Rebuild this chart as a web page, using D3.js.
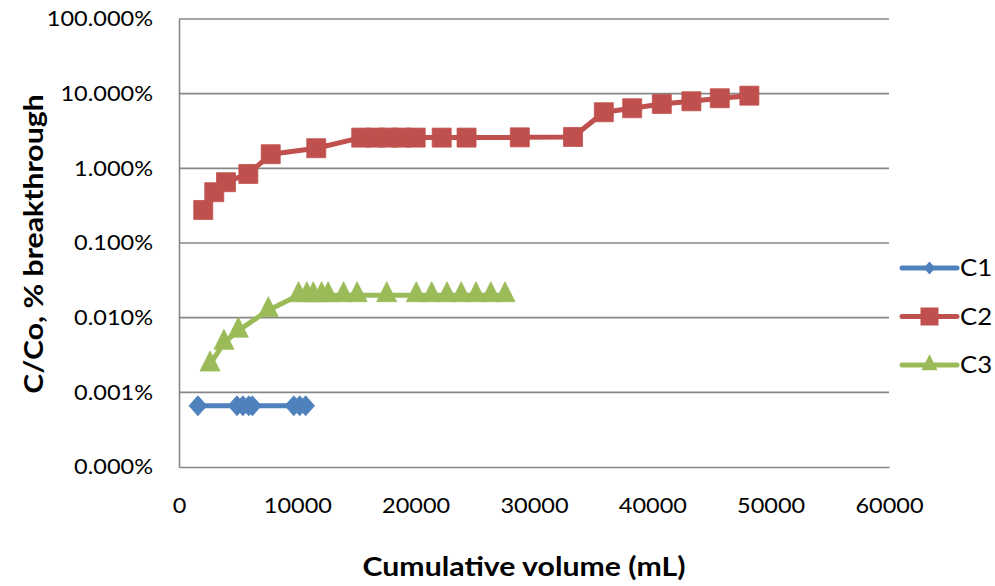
<!DOCTYPE html>
<html>
<head>
<meta charset="utf-8">
<script src="https://cdn.jsdelivr.net/npm/d3@7"></script>
<style>
  html, body { margin: 0; padding: 0; background: #fff; }
  svg { display: block; }
  text { font-family: Lato, "Open Sans", "Liberation Sans", sans-serif; fill: #000; }
</style>
</head>
<body>
<svg id="chart" width="995" height="586"></svg>
<script>
// Breakthrough data: cumulative volume (mL) and C/Co in percent
const c1Volume = [1600, 4900, 5400, 5900, 6200, 9700, 10200, 10700];
const c1Percent = [0.00066, 0.00066, 0.00066, 0.00066, 0.00066, 0.00066, 0.00066, 0.00066];

const c2Volume = [2050, 2980, 3970, 5860, 7750, 11600, 15400, 16600, 17700, 18800, 20000,
                  22200, 24300, 28800, 33300, 35900, 38300, 40800, 43300, 45700, 48200];
const c2Percent = [0.277, 0.479, 0.652, 0.841, 1.545, 1.86, 2.58, 2.58, 2.58, 2.58, 2.58,
                   2.58, 2.58, 2.6, 2.63, 5.64, 6.38, 7.28, 7.91, 8.68, 9.4];

const c3Volume = [2620, 3800, 5010, 7550, 10100, 10800, 11350, 12050, 12600, 13900, 15050,
                  17550, 20050, 21350, 22650, 23850, 25100, 26350, 27550];
const c3Percent = [0.00236, 0.0046, 0.0067, 0.0126, 0.02, 0.02, 0.02, 0.02, 0.02, 0.02, 0.02,
                   0.02, 0.02, 0.02, 0.02, 0.02, 0.02, 0.02, 0.02];

const seriesNames = ["C1", "C2", "C3"];
const xTicks = [0, 10000, 20000, 30000, 40000, 50000, 60000];
const yTicks = [0.0001, 0.001, 0.01, 0.1, 1, 10, 100];

const colors = { C1: "#4F81BD", C2: "#C0504D", C3: "#9BBB59" };

const series = [
  { name: "C1", marker: "diamond", values: c1Volume.map((v, i) => ({ x: v, y: c1Percent[i] })) },
  { name: "C2", marker: "square", values: c2Volume.map((v, i) => ({ x: v, y: c2Percent[i] })) },
  { name: "C3", marker: "triangle", values: c3Volume.map((v, i) => ({ x: v, y: c3Percent[i] })) }
];

const svg = d3.select("#chart");
const plot = { left: 179, right: 889, top: 19, bottom: 467 };

const x = d3.scaleLinear().domain([0, 60000]).range([plot.left, plot.right]);
const y = d3.scaleLog().domain([0.0001, 100]).range([plot.bottom, plot.top]);

// Widen glyphs horizontally around their anchor point
function stretch(sel, k) {
  sel.each(function () {
    const t = d3.select(this);
    const x0 = +t.attr("x") || 0;
    t.attr("transform", `translate(${x0},0) scale(${k},1) translate(${-x0},0)`);
  });
}

// Horizontal gridlines at each decade
svg.append("g")
  .selectAll("line")
  .data(yTicks.slice(1))
  .join("line")
  .attr("x1", plot.left).attr("x2", plot.right)
  .attr("y1", d => y(d)).attr("y2", d => y(d))
  .attr("stroke", "#878787").attr("stroke-width", 1.6);

// Y axis
const yAxis = svg.append("g")
  .attr("transform", `translate(${plot.left},0)`)
  .call(d3.axisLeft(y).tickValues(yTicks).tickFormat(d => d3.format(".3f")(d) + "%").tickSize(0).tickPadding(26));
yAxis.select(".domain").attr("stroke", "#878787").attr("stroke-width", 1.6);
yAxis.selectAll("text").style("font-size", "21px").attr("fill", "#000").call(stretch, 1.12);

// X axis
const xAxis = svg.append("g")
  .attr("transform", `translate(0,${plot.bottom})`)
  .call(d3.axisBottom(x).tickValues(xTicks).tickFormat(d3.format("d")).tickSize(0).tickPadding(31));
xAxis.select(".domain").attr("stroke", "#878787").attr("stroke-width", 1.6);
xAxis.selectAll("text").style("font-size", "21px").attr("fill", "#000").call(stretch, 1.12);

// Axis titles
svg.append("text")
  .attr("transform", "translate(524,576) scale(1.12,1)")
  .attr("text-anchor", "middle")
  .style("font-size", "27px").style("font-weight", "bold")
  .text("Cumulative volume (mL)");

svg.append("text")
  .attr("transform", "translate(43,244) rotate(-90) scale(1.12,1)")
  .attr("text-anchor", "middle")
  .style("font-size", "27px").style("font-weight", "bold")
  .text("C/Co, % breakthrough");

// Marker shapes
function markerPath(type, s) {
  if (type === "square") {
    return `M${-s},${-s}H${s}V${s}H${-s}Z`;
  }
  if (type === "diamond") {
    const w = s * 0.9, h = s;
    return `M0,${-h}L${w},0L0,${h}L${-w},0Z`;
  }
  // triangle, point sits near the centroid
  return `M0,${-s * 1.35}L${s},${s * 0.65}L${-s},${s * 0.65}Z`;
}

const line = d3.line().x(d => x(d.x)).y(d => y(d.y));

const g = svg.append("g");
series.forEach(s => {
  g.append("path")
    .datum(s.values)
    .attr("d", line)
    .attr("fill", "none")
    .attr("stroke", colors[s.name])
    .attr("stroke-width", 5)
    .attr("stroke-linejoin", "round")
    .attr("stroke-linecap", "round");
  const size = s.marker === "square" ? 9.5 : 10;
  g.append("g")
    .selectAll("path")
    .data(s.values)
    .join("path")
    .attr("transform", d => `translate(${x(d.x)},${y(d.y)})`)
    .attr("d", markerPath(s.marker, size))
    .attr("fill", colors[s.name])
    .attr("stroke", colors[s.name])
    .attr("stroke-width", 0.8)
    .attr("stroke-linejoin", "round");
});

// Legend
const legend = svg.append("g");
const legendY = [268, 316.5, 365];
series.forEach((s, i) => {
  const row = legend.append("g").attr("transform", `translate(902,${legendY[i]})`);
  row.append("line")
    .attr("x1", 0).attr("x2", 55)
    .attr("stroke", colors[s.name]).attr("stroke-width", 5).attr("stroke-linecap", "round");
  const ls = s.marker === "square" ? 9 : (s.marker === "diamond" ? 6.5 : 8);
  row.append("path")
    .attr("transform", "translate(27.5,0)")
    .attr("d", markerPath(s.marker, ls))
    .attr("fill", colors[s.name]);
  row.append("text")
    .attr("transform", "translate(58,0) scale(1.12,1)")
    .attr("dy", "0.35em")
    .style("font-size", "23px")
    .text(seriesNames[i]);
});
</script>
</body>
</html>
